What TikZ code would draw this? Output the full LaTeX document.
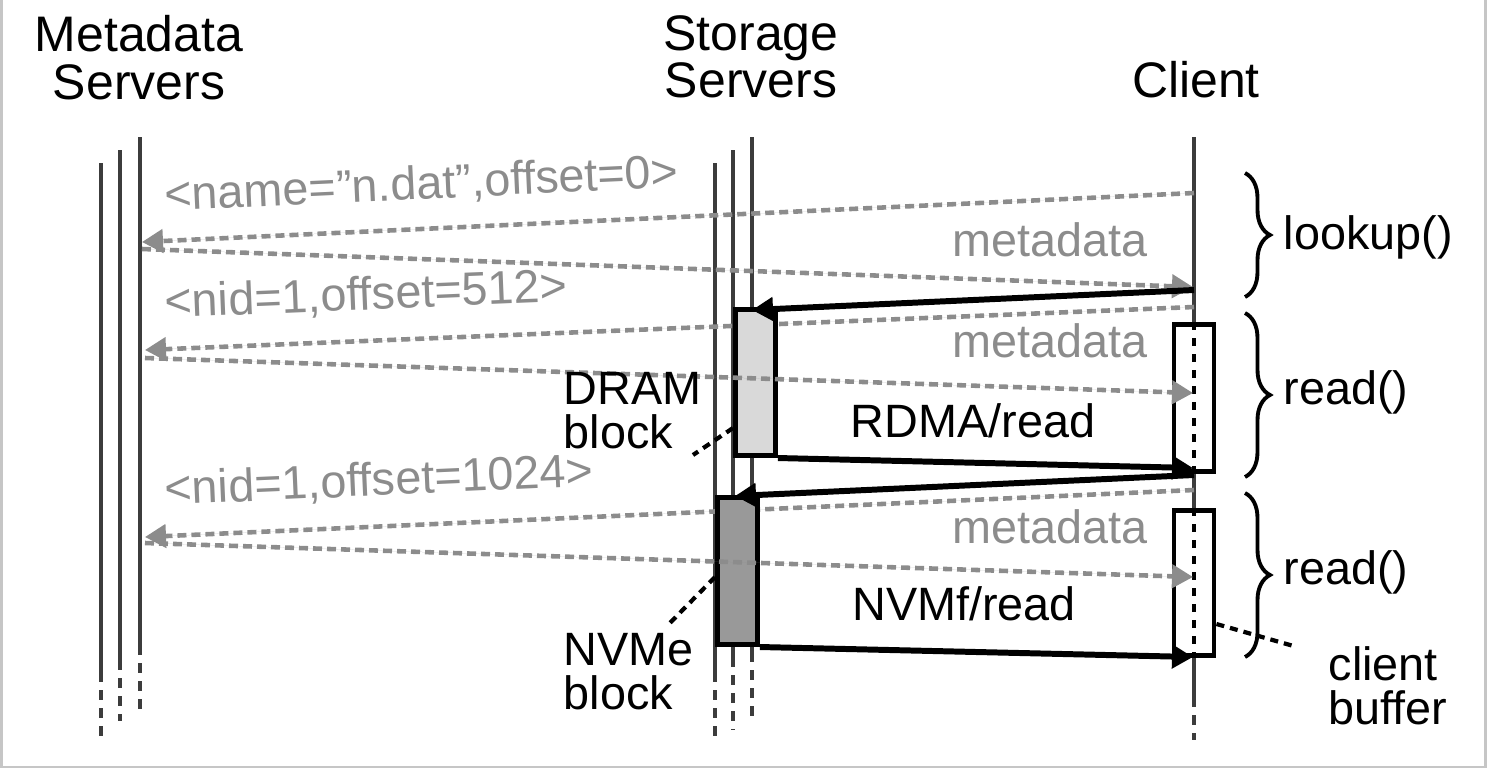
\documentclass[tikz,border=0pt]{standalone}
\usepackage{fontspec}
\setmainfont{Liberation Sans}
\usepackage{tikz}
\usetikzlibrary{arrows.meta, positioning, decorations.pathreplacing, calc}
\usepackage{xcolor}
\definecolor{lifegray}{HTML}{3C3C3C}
\definecolor{msggray}{HTML}{8C8C8C}
\definecolor{dramgray}{HTML}{D9D9D9}
\definecolor{nvmegray}{HTML}{999999}

\begin{document}
\begin{tikzpicture}[
  x=0.01cm, y=-0.01cm,
  >={Triangle[length=0.21cm, width=0.23cm]},
  head/.style={font=\fontsize{14.2}{13.4}\selectfont, align=center, inner sep=0pt},
  txt/.style={font=\fontsize{13.3}{12.5}\selectfont, align=left, inner sep=0pt},
  lbl/.style={txt, text=msggray},
  lifeline/.style={draw=lifegray, line width=1.4pt},
  lifeend/.style={lifeline, dash pattern=on 0.1cm off 0.08cm},
  req/.style={->, draw=msggray, fill=msggray, line width=1.3pt, dash pattern=on 0.09cm off 0.05cm},
  call/.style={->, draw=black, line width=1.7pt},
  block/.style={draw=black, line width=1.4pt, inner sep=0pt, minimum width=0.4cm, anchor=north west},
  buffer/.style={draw=black, line width=1.4pt, fill=white, inner sep=0pt, minimum width=0.4cm, anchor=north},
  bufdash/.style={draw=black, line width=1.3pt, dash pattern=on 0.08cm off 0.08cm},
  leader/.style={draw=black, line width=1.2pt, dash pattern=on 0.08cm off 0.06cm},
  accolade/.style={draw=black, line width=1.1pt, decorate, decoration={brace, amplitude=0.25cm}}
]
  \useasboundingbox (0,0) rectangle (1487,769);
  % cadre
  \draw[gray!45, line width=0.6pt] (1.5,0) -- (1.5,767) -- (1485.5,767) -- (1485.5,0);

  % titres
  \node[head, anchor=north] (mds) at (139,15) {Metadata\\Servers};
  \node[head, anchor=north] (sts) at (751,15) {Storage\\Servers};
  \node[head, anchor=base] (cli) at (1196,97) {Client};

  % lignes de vie
  \foreach \lx/\ltop/\lsol/\lend in {101/163/672/740, 120/150/660/721, 140/137/645/711,
      715/163/672/738, 733/150/657/730, 752/137/652/720, 1194/137/697/740} {
    \draw[lifeline] (\lx,\ltop) -- (\lx,\lsol);
    \draw[lifeend] (\lx,\lsol) -- (\lx,\lend);
  }

  % points des messages
  \coordinate (cl-q1) at (1194,193);
  \coordinate (md-q1) at (142,242);
  \coordinate (md-r1) at (142,249);
  \coordinate (cl-r1) at (1193,287);
  \coordinate (cl-c1) at (1194,290);
  \coordinate (st-c1) at (752,310);
  \coordinate (cl-q2) at (1194,307);
  \coordinate (md-q2) at (145,350);
  \coordinate (md-r2) at (145,358);
  \coordinate (cl-r2) at (1193,393);
  \coordinate (cl-c2) at (1193,468);
  \coordinate (cl-c3) at (1194,475);
  \coordinate (st-c3) at (735,496);
  \coordinate (cl-q3) at (1194,490);
  \coordinate (md-q3) at (145,537);
  \coordinate (md-r3) at (145,543);
  \coordinate (cl-r3) at (1193,577);
  \coordinate (cl-c4) at (1193,657);

  % requetes vers les serveurs de metadonnees
  \draw[req] (cl-q1) -- (md-q1);
  \draw[req] (cl-q2) -- (md-q2);
  \draw[req] (cl-q3) -- (md-q3);

  % blocs de stockage
  \node[block, fill=dramgray, minimum height=1.46cm] (dram) at (733,307) {};
  \node[block, fill=nvmegray, minimum height=1.47cm] (nvme) at (715,495) {};

  % buffers du client
  \node[buffer, minimum height=1.47cm] (buf1) at (1194,322) {};
  \node[buffer, minimum height=1.45cm] (buf2) at (1194,508) {};
  \draw[bufdash] (buf1.north) -- (buf1.south);
  \draw[bufdash] (buf2.north) -- (buf2.south);

  % reponses
  \draw[req] (md-r1) -- (cl-r1);
  \draw[req] (md-r2) -- (cl-r2);
  \draw[req] (md-r3) -- (cl-r3);

  % lectures
  \draw[call] (cl-c1) -- (st-c1);
  \draw[call] (dram.south east) -- (cl-c2);
  \draw[call] (cl-c3) -- (st-c3);
  \draw[call] (nvme.south east) -- (cl-c4);

  % etiquettes des messages
  \node[lbl, rotate=2.66, anchor=base west] (q1) at (165,211) {<name=”n.dat”,offset=0>};
  \node[lbl, anchor=base east] (r1) at (1148,256) {metadata};
  \node[lbl, rotate=2.35, anchor=base west] (q2) at (165,318) {<nid=1,offset=512>};
  \node[lbl, anchor=base east] (r2) at (1148,357) {metadata};
  \node[lbl, rotate=2.56, anchor=base west] (q3) at (165,505) {<nid=1,offset=1024>};
  \node[lbl, anchor=base east] (r3) at (1148,543) {metadata};
  \node[txt, anchor=base] (rdma) at (973,437) {RDMA/read};
  \node[txt, anchor=base] (nvmf) at (964,620) {NVMf/read};

  % legendes des blocs
  \node[txt, anchor=north west] (dramlbl) at (563,372) {DRAM\\block};
  \node[txt, anchor=north west] (nvmelbl) at (563,633) {NVMe\\block};
  \node[txt, anchor=north west] (buflbl) at (1328,646) {client\\buffer};
  \coordinate (dram-l) at (693,455);
  \coordinate (nvme-l) at (668,625);
  \coordinate (buf-l) at (1297,647);
  \draw[leader] (dram.west |- 0,428) -- (dram-l);
  \draw[leader] (nvme.west |- 0,577) -- (nvme-l);
  \draw[leader] (buf2.east |- 0,624) -- (buf-l);

  % accolades
  \draw[accolade] (1245,173) -- (1245,297);
  \draw[accolade] (1245,313) -- (1245,477);
  \draw[accolade] (1245,493) -- (1245,657);
  \node[txt, anchor=west] (lookup) at (1283,237) {lookup()};
  \node[txt, anchor=west] (read1) at (1283,392) {read()};
  \node[txt, anchor=west] (read2) at (1283,572) {read()};

\end{tikzpicture}
\end{document}
